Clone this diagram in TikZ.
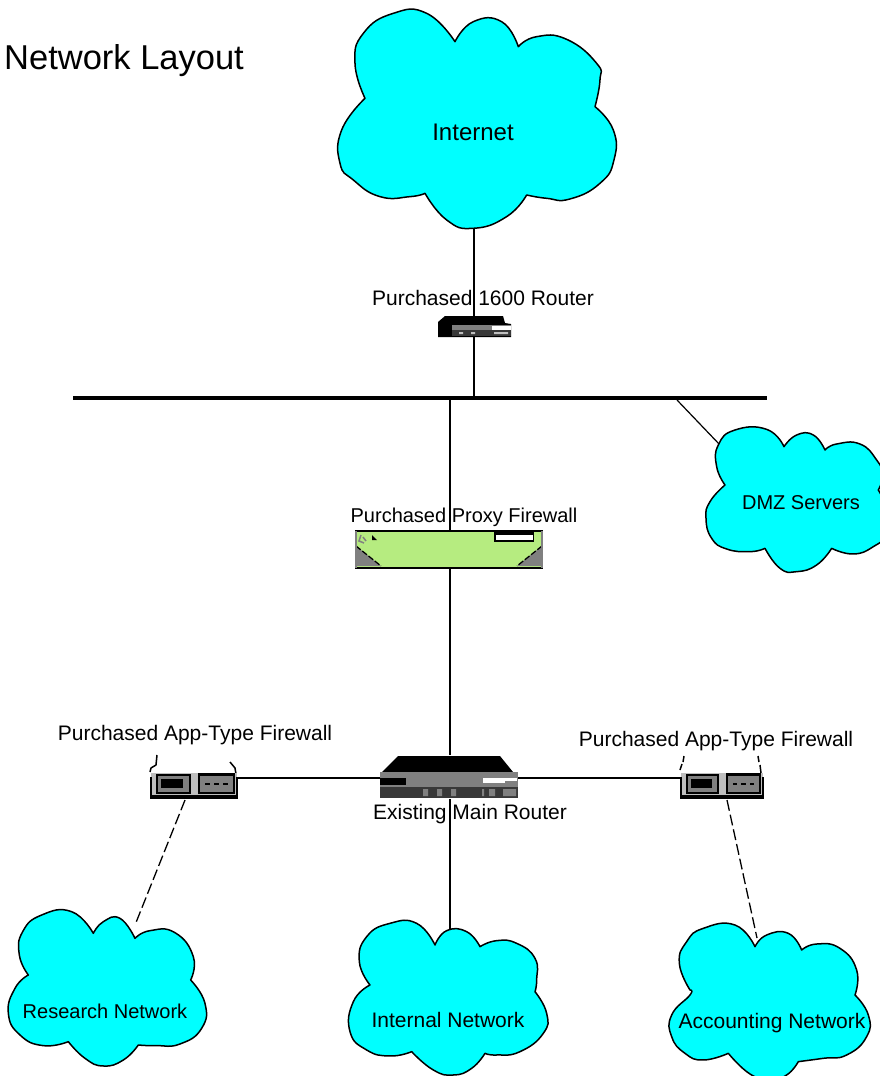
\documentclass[tikz,border=0pt]{standalone}
\usepackage{fontspec}
\setmainfont{Liberation Sans}
\tikzset{
  every picture/.style={x=1pt,y=-1pt},
  lbl/.style={inner sep=0pt,font=\fontsize{20}{24}\selectfont,text=black},
  lblb/.style={inner sep=0pt,font=\fontsize{21}{25}\selectfont,text=black},
  lblc/.style={inner sep=0pt,font=\fontsize{24}{28}\selectfont,text=black},
  titlelbl/.style={inner sep=0pt,font=\fontsize{34.5}{40}\selectfont,text=black},
  cloudfill/.style={fill=netcyan,draw=black,line width=1.5pt,line join=round},
  wire/.style={draw=black,line width=2.4pt},
  thinwire/.style={draw=black,line width=1.2pt},
  brokenwire/.style={draw=black,line width=1.3pt,dash pattern=on 11pt off 4pt},
  busline/.style={draw=black,line width=4pt},
  devbox/.style={inner sep=0pt,outer sep=0pt,draw=none,fill=none},
  whisker/.style={draw=black,line width=1.5pt,line join=round},
}
\definecolor{netcyan}{HTML}{00FFFF}
\definecolor{pxgreen}{HTML}{B6EC80}
\definecolor{dgray}{HTML}{808080}
\definecolor{lgray}{HTML}{BEBEBE}
\definecolor{vdgray}{HTML}{383838}
% offset x, offset y, six lobes of zoomed coordinates
\newcommand{\netcloud}[8]{%
  \begin{scope}[shift={(#1,#2)},x=0.3333pt,y=-0.3333pt]
    \path[cloudfill]
      plot[smooth,tension=0.85] coordinates {#3}
      -- plot[smooth,tension=0.85] coordinates {#4}
      -- plot[smooth,tension=0.85] coordinates {#5}
      -- plot[smooth,tension=0.85] coordinates {#6}
      -- plot[smooth,tension=0.85] coordinates {#7}
      -- plot[smooth,tension=0.85] coordinates {#8}
      -- cycle;
  \end{scope}}
\newcommand{\appfw}[3]{% x, y, xscale
  \begin{scope}[shift={(#1,#2)},xscale=#3]
    \fill[lgray] (1,1) rectangle (87,24);
    \fill[black] (0,23) rectangle (88,27);
    \fill[black] (0,5) rectangle (2,27);
    \fill[black] (86,5) rectangle (88,27);
    \fill[black] (6,2) rectangle (41,22);
    \fill[dgray] (8,4) rectangle (39,20);
    \fill[black] (11,7) rectangle (33,16);
    \fill[black] (48,1) rectangle (85,22);
    \fill[dgray] (50,4) rectangle (83,20);
    \fill[black] (55,11) rectangle (60,13);
    \fill[black] (64,11) rectangle (69,13);
    \fill[black] (73,11) rectangle (78,13);
  \end{scope}}
\begin{document}
\begin{tikzpicture}
\useasboundingbox (0,0) rectangle (880,1076);
\clip (0,0) rectangle (880,1076);

% anchors of the connectors
\coordinate (netbottom) at (474,228);
\coordinate (busleft) at (73,398);
\coordinate (busright) at (767,398);
\coordinate (busnet) at (474,398);
\coordinate (busproxy) at (450,398);
\coordinate (busdmz) at (677,400);
\coordinate (dmztop) at (720,445);
\coordinate (internaltop) at (450,930);
\coordinate (researchtop) at (135,925);
\coordinate (accounttop) at (757,938);
\coordinate (resfw) at (185,800);
\coordinate (accfw) at (727,800);

% device boxes
\node[devbox,minimum width=73pt,minimum height=22pt] (r1600) at (474.5,326) {};
\node[devbox,minimum width=186pt,minimum height=39pt] (proxy) at (449,549.5) {};
\node[devbox,minimum width=138pt,minimum height=44pt] (mainr) at (449,777) {};
\node[devbox,minimum width=88pt,minimum height=27pt] (fwleft) at (194,785.5) {};
\node[devbox,minimum width=84pt,minimum height=27pt] (fwright) at (722,785.5) {};

% connectors
\path[wire] (netbottom) -- (busnet);
\path[busline] (busleft) -- (busright);
\path[wire] (busproxy) -- (mainr.north -| busproxy);
\path[wire] (mainr.south -| internaltop) -- (internaltop);
\path[thinwire] (busdmz) -- (dmztop);
\path[wire] (fwleft.east) ++(0,-7.5) -- (mainr.west |- 0,778);
\path[wire] (mainr.east |- 0,778) -- (fwright.west |- 0,778);
\path[brokenwire] (resfw) -- (researchtop);
\path[brokenwire] (accfw) -- (accounttop);

% clouds
\netcloud{330}{0}
 {(105,295)(75,190)(100,100)(190,40)(290,40)(375,125)}
 {(375,125)(430,65)(515,65)(565,140)}
 {(565,140)(620,110)(710,118)(800,190)(810,240)(795,320)}
 {(795,320)(850,390)(852,480)(810,550)(720,597)(650,595)(590,585)}
 {(590,585)(530,650)(430,685)(350,660)(285,580)}
 {(285,580)(240,590)(150,590)(70,540)(30,490)(35,390)(105,295)}
\netcloud{660}{400}
 {(195,255)(170,200)(175,135)(225,90)(320,88)(372,140)}
 {(372,140)(410,105)(460,105)(495,150)}
 {(495,150)(530,132)(600,132)(650,180)(668,225)(655,270)}
 {(655,270)(680,330)(680,400)(640,440)(580,462)(515,445)}
 {(515,445)(470,495)(410,515)(360,505)(315,445)}
 {(315,445)(270,455)(200,447)(155,415)(138,355)(150,305)(195,255)}
\netcloud{0}{900}
 {(85,225)(58,165)(68,95)(125,45)(215,35)(280,100)}
 {(280,100)(310,65)(360,55)(405,115)}
 {(405,115)(450,92)(525,98)(580,170)(572,240)}
 {(572,240)(615,310)(605,385)(540,432)(470,437)(415,435)}
 {(415,435)(370,480)(310,498)(255,475)(205,425)}
 {(205,425)(130,437)(60,405)(25,340)(45,265)(85,225)}
\netcloud{340}{910}
 {(90,225)(58,155)(80,80)(150,40)(230,40)(285,105)}
 {(285,105)(320,62)(380,65)(420,110)}
 {(420,110)(470,92)(530,100)(585,145)(590,210)(585,245)}
 {(585,245)(620,310)(610,370)(540,425)(470,435)(435,430)}
 {(435,430)(395,475)(340,495)(280,480)(215,425)}
 {(215,425)(150,438)(80,420)(30,365)(40,275)(90,225)}
\netcloud{660}{920}
 {(90,210)(58,130)(80,65)(130,25)(225,15)(285,80)}
 {(285,80)(320,45)(385,40)(425,90)}
 {(425,90)(470,72)(540,85)(590,150)(585,225)}
 {(585,225)(625,285)(620,350)(560,405)(490,415)(415,425)}
 {(415,425)(380,465)(330,478)(270,462)(205,400)}
 {(205,400)(130,420)(75,400)(35,350)(35,285)(90,225)(90,210)}

% small router
\fill[black] (438,337) -- (438,322) -- (445,316) -- (503,316) -- (505,323) -- (511,324) -- (511,337) -- cycle;
\fill[dgray] (452,324.5) rectangle (511,330);
\fill[white] (492,326) rectangle (511,330);
\fill[vdgray] (452,330) rectangle (511,336);
\fill[lgray] (459,332) rectangle (463,334) (471,332) rectangle (475,334) (494,332) rectangle (508,334);

% proxy firewall
\fill[pxgreen] (356,530) rectangle (542,568);
\fill[dgray] (356,546) -- (381,566) -- (356,566) -- cycle;
\fill[dgray] (542,546) -- (517,566) -- (542,566) -- cycle;
\draw[black,line width=1.3pt,dash pattern=on 6pt off 2pt] (356,546) -- (381,566);
\draw[black,line width=1.3pt,dash pattern=on 6pt off 2pt] (542,546) -- (517,566);
\draw[black,line width=2pt] (355,531) -- (543,531);
\draw[black,line width=2.4pt] (355,568) -- (543,568);
\draw[dgray,line width=1.5pt] (356,531) -- (356,568) (542,531) -- (542,568);
\fill[black] (494,531) rectangle (534,542);
\fill[white] (496,535) rectangle (533,539.5);
\fill[black] (372,535) -- (377,540) -- (372,540) -- cycle;
\draw[dgray,line width=1.5pt] (361,535) -- (359,541) -- (364,543) (363,537) -- (366,541);

% main router
\fill[black] (382,772) -- (398,756) -- (500,756) -- (513,772) -- cycle;
\fill[dgray] (380,772) rectangle (518,787);
\fill[black] (380,778) rectangle (406,785);
\fill[white] (483,777.5) rectangle (517,783);
\fill[dgray] (505,781) rectangle (518,787);
\fill[vdgray] (380,787) rectangle (518,798);
\fill[dgray] (423,789) rectangle (428,796) (437,789) rectangle (442,796) (451,789) rectangle (456,796)
  (482,789) rectangle (484,796) (489,789) rectangle (495,796) (503,789) rectangle (516,796);

% app-type firewalls
\path[whisker] (150,772) -- (151,768) -- (156,765) -- (157,755);
\path[whisker] (230,762) -- (235,768) -- (236,774);
\appfw{150}{772}{1}
\path[whisker] (680,770) -- (682,764);
\path[whisker] (683,762) -- (684,756);
\path[whisker] (758,756) -- (759,762);
\path[whisker] (760,765) -- (761,773);
\appfw{680}{772}{0.955}

% labels
\node[titlelbl,anchor=west] (title) at (4,61) {Network Layout};
\node[lblc] (internet) at (473,132) {Internet};
\node[lblb] (r1600lbl) at (483,298) {Purchased 1600 Router};
\node[lbl] (proxylbl) at (464,517) {Purchased Proxy Firewall};
\node[lbl] (dmz) at (801,503) {DMZ Servers};
\node[lblb] (fwleftlbl) at (195,735) {Purchased App-Type Firewall};
\node[lblb] (fwrightlbl) at (716,741) {Purchased App-Type Firewall};
\node[lblb] (mainlbl) at (470,814) {Existing Main Router};
\node[lbl] (research) at (105,1011) {Research Network};
\node[lblb] (internal) at (448,1020) {Internal Network};
\node[lblb] (accounting) at (772,1023) {Accounting Network};
\end{tikzpicture}
\end{document}
